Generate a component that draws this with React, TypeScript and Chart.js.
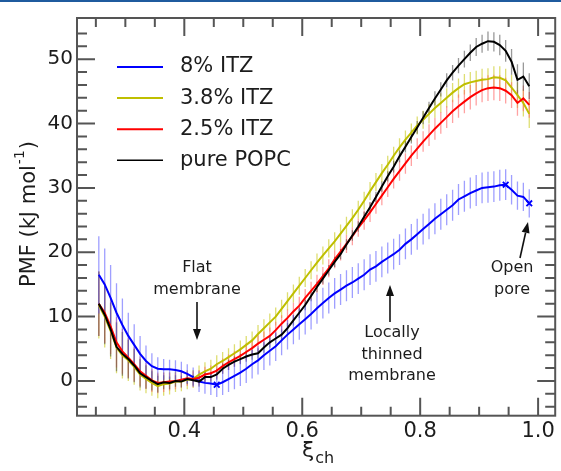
import React, { useEffect, useRef } from 'react';
import { Chart, registerables } from 'chart.js';

Chart.register(...registerables);

const FONT = '"DejaVu Sans", Verdana, sans-serif';

// ---------- data ----------
const xi = [
  0.255, 0.265, 0.275, 0.285, 0.295, 0.305, 0.315, 0.325, 0.335, 0.345,
  0.355, 0.365, 0.375, 0.385, 0.395, 0.405, 0.415, 0.425, 0.435, 0.445,
  0.455, 0.465, 0.475, 0.485, 0.495, 0.505, 0.515, 0.525, 0.535, 0.545,
  0.555, 0.565, 0.575, 0.585, 0.595, 0.605, 0.615, 0.625, 0.635, 0.645,
  0.655, 0.665, 0.675, 0.685, 0.695, 0.705, 0.715, 0.725, 0.735, 0.745,
  0.755, 0.765, 0.775, 0.785, 0.795, 0.805, 0.815, 0.825, 0.835, 0.845,
  0.855, 0.865, 0.875, 0.885, 0.895, 0.905, 0.915, 0.925, 0.935, 0.945,
  0.955, 0.965, 0.975, 0.985,
];

const itz8 = [
  16.5, 15.0, 12.9, 10.6, 8.7, 7.0, 5.6, 4.2, 3.1, 2.3,
  1.9, 1.8, 1.8, 1.7, 1.5, 1.1, 0.6, -0.1, -0.3, -0.4,
  -0.6, -0.2, 0.3, 0.8, 1.3, 1.9, 2.6, 3.2, 4.0, 4.7,
  5.4, 6.3, 7.2, 8.0, 8.8, 9.6, 10.4, 11.3, 12.1, 12.9,
  13.6, 14.2, 14.8, 15.3, 15.9, 16.5, 17.3, 17.8, 18.5, 19.1,
  19.7, 20.4, 21.3, 22.0, 22.8, 23.6, 24.4, 25.2, 25.9, 26.6,
  27.3, 28.2, 28.7, 29.2, 29.6, 30.0, 30.1, 30.2, 30.4, 30.5,
  29.7, 28.8, 28.6, 27.6,
];
const itz8Err = [
  6.0, 5.6, 5.1, 4.6, 4.1, 3.6, 3.2, 2.8, 2.4, 2.0,
  1.8, 1.6, 1.5, 1.5, 1.5, 1.5, 1.5, 1.6, 1.7, 1.8,
  1.9, 2.0, 2.0, 2.1, 2.1, 2.2, 2.2, 2.2, 2.3, 2.3,
  2.3, 2.3, 2.3, 2.3, 2.4, 2.4, 2.4, 2.4, 2.4, 2.4,
  2.4, 2.4, 2.4, 2.4, 2.4, 2.4, 2.4, 2.4, 2.4, 2.4,
  2.4, 2.4, 2.4, 2.4, 2.4, 2.4, 2.4, 2.4, 2.4, 2.4,
  2.4, 2.4, 2.4, 2.4, 2.4, 2.4, 2.4, 2.4, 2.4, 2.4,
  2.3, 2.2, 2.2, 2.2,
];

const itz38 = [
  11.8, 10.0, 7.8, 5.2, 4.0, 3.2, 2.2, 1.0, 0.3, -0.3,
  -0.8, -0.5, -0.4, -0.1, -0.1, 0.2, 0.3, 1.0, 1.5, 1.9,
  2.6, 3.1, 3.7, 4.3, 4.9, 5.6, 6.3, 7.3, 8.2, 9.1,
  10.0, 11.2, 12.4, 13.6, 14.8, 16.0, 17.2, 18.4, 19.5, 20.6,
  21.7, 22.9, 24.1, 25.3, 26.6, 28.0, 29.5, 30.9, 32.3, 33.6,
  35.0, 36.3, 37.5, 38.6, 39.7, 40.6, 41.5, 42.4, 43.2, 44.0,
  44.8, 45.5, 46.1, 46.4, 46.6, 46.8, 46.9, 47.2, 47.1, 46.7,
  45.6, 44.4, 43.2, 41.5,
];
const itz38Err = [
  5.2, 4.8, 4.4, 4.0, 3.6, 3.2, 2.8, 2.5, 2.2, 2.0,
  1.9, 1.8, 1.7, 1.6, 1.5, 1.5, 1.4, 1.4, 1.4, 1.4,
  1.4, 1.4, 1.4, 1.4, 1.4, 1.4, 1.4, 1.4, 1.4, 1.4,
  1.4, 1.4, 1.4, 1.4, 1.4, 1.4, 1.4, 1.4, 1.4, 1.4,
  1.4, 1.4, 1.4, 1.4, 1.4, 1.4, 1.4, 1.4, 1.4, 1.4,
  1.4, 1.4, 1.4, 1.4, 1.4, 1.4, 1.5, 1.5, 1.5, 1.5,
  1.5, 1.5, 1.6, 1.6, 1.6, 1.7, 1.7, 1.7, 1.8, 1.8,
  2.0, 2.0, 2.1, 2.2,
];

const itz25 = [
  12.0, 10.6, 8.5, 6.0, 4.6, 3.6, 2.6, 1.5, 0.8, 0.1,
  -0.3, -0.2, -0.1, 0.0, 0.2, 0.4, 0.3, 0.5, 1.0, 1.2,
  1.6, 2.3, 2.9, 3.4, 3.9, 4.5, 5.1, 5.8, 6.4, 7.0,
  7.9, 8.9, 9.8, 10.8, 11.7, 12.9, 14.0, 15.1, 16.3, 17.5,
  18.9, 20.1, 21.3, 22.5, 23.8, 25.0, 26.2, 27.5, 28.8, 30.1,
  31.4, 32.6, 33.8, 35.0, 36.1, 37.2, 38.2, 39.2, 40.1, 41.0,
  41.9, 42.7, 43.4, 44.1, 44.7, 45.2, 45.5, 45.6, 45.5, 45.1,
  44.4, 43.2, 43.9, 42.9,
];
const itz25Err = [
  5.0, 4.7, 4.3, 3.9, 3.5, 3.1, 2.7, 2.3, 2.0, 1.8,
  1.6, 1.5, 1.4, 1.3, 1.2, 1.2, 1.2, 1.2, 1.2, 1.2,
  1.2, 1.2, 1.2, 1.2, 1.2, 1.3, 1.3, 1.3, 1.3, 1.3,
  1.3, 1.3, 1.3, 1.4, 1.4, 1.4, 1.4, 1.4, 1.4, 1.4,
  1.4, 1.4, 1.4, 1.4, 1.4, 1.5, 1.5, 1.5, 1.5, 1.5,
  1.5, 1.5, 1.6, 1.6, 1.6, 1.6, 1.7, 1.7, 1.7, 1.7,
  1.8, 1.8, 1.8, 1.9, 1.9, 1.9, 2.0, 2.0, 2.0, 2.0,
  2.0, 2.0, 2.0, 2.0,
];

const popc = [
  12.0, 10.3, 8.0, 5.3, 4.2, 3.4, 2.4, 1.2, 0.6, 0.0,
  -0.5, -0.2, -0.3, 0.0, -0.1, 0.3, 0.1, -0.1, 0.6, 0.6,
  1.0, 1.9, 2.5, 3.0, 3.4, 3.8, 4.1, 4.3, 5.2, 6.0,
  6.6, 7.2, 8.2, 9.4, 10.6, 11.8, 13.2, 14.6, 15.9, 17.2,
  18.5, 19.7, 21.2, 22.6, 24.0, 25.5, 27.0, 28.6, 30.2, 31.8,
  33.3, 34.9, 36.4, 37.9, 39.4, 40.9, 42.4, 43.9, 45.3, 46.7,
  47.9, 49.0, 50.0, 51.0, 51.9, 52.4, 52.8, 52.7, 52.2, 51.3,
  49.6, 46.8, 47.3, 45.8,
];
const popcErr = [
  5.0, 4.6, 4.2, 3.8, 3.4, 3.0, 2.6, 2.2, 1.8, 1.5,
  1.3, 1.1, 1.0, 0.9, 0.9, 0.8, 0.8, 0.8, 0.8, 0.8,
  0.8, 0.8, 0.8, 0.8, 0.8, 0.8, 0.8, 0.8, 0.8, 0.8,
  0.8, 0.8, 0.8, 0.8, 0.8, 0.8, 0.8, 0.8, 0.8, 0.8,
  0.8, 0.8, 0.8, 0.8, 0.8, 0.8, 0.8, 0.8, 0.8, 0.8,
  0.9, 0.9, 0.9, 1.0, 1.0, 1.0, 1.0, 1.1, 1.1, 1.1,
  1.2, 1.2, 1.3, 1.3, 1.4, 1.4, 1.5, 1.5, 1.6, 1.7,
  2.0, 2.4, 2.2, 2.0,
];

const seriesLabels = ['8% ITZ', '3.8% ITZ', '2.5% ITZ', 'pure POPC'];
const blueMarkerX = [0.455, 0.945, 0.985];

const xMajorTicks = [0.4, 0.6, 0.8, 1.0];
const xMinorTicks = [0.25, 0.3, 0.35, 0.45, 0.5, 0.55, 0.65, 0.7, 0.75, 0.85, 0.9, 0.95];
const yMajorTicks = [0, 10, 20, 30, 40, 50];
const yMinorTicks = [-4, -2, 2, 4, 6, 8, 12, 14, 16, 18, 22, 24, 26, 28, 32, 34, 36, 38, 42, 44, 46, 48, 52, 54];

// ---------- styles ----------
const TEXT = '#1c1c1c';
const lineColors = ['#0000ff', '#bfbf00', '#ff0000', '#000000'];
const errColors = [
  'rgba(80,80,255,0.55)',
  'rgba(205,205,40,0.65)',
  'rgba(255,100,100,0.6)',
  'rgba(70,70,70,0.55)',
];

const decorPlugin = {
  id: 'decor',
  beforeDatasetsDraw(chart: any) {
    const { ctx, chartArea: a, scales } = chart;
    const xs = scales.x, ys = scales.y;
    const errs = [itz8Err, itz38Err, itz25Err, popcErr];
    const vals = [itz8, itz38, itz25, popc];
    ctx.save();
    ctx.beginPath();
    ctx.rect(a.left, a.top, a.right - a.left, a.bottom - a.top);
    ctx.clip();
    ctx.lineWidth = 1.3;
    const drawOrder = [1, 2, 3, 0];
    for (const d of drawOrder) {
      ctx.strokeStyle = errColors[d];
      ctx.beginPath();
      for (let i = 0; i < xi.length; i++) {
        const px = xs.getPixelForValue(xi[i]);
        ctx.moveTo(px, ys.getPixelForValue(vals[d][i] - errs[d][i]));
        ctx.lineTo(px, ys.getPixelForValue(vals[d][i] + errs[d][i]));
      }
      ctx.stroke();
    }
    ctx.restore();
  },
  afterDatasetsDraw(chart: any) {
    const { ctx, chartArea: a, scales } = chart;
    const xs = scales.x, ys = scales.y;
    ctx.save();
    // ticks on all four sides (inward)
    ctx.strokeStyle = '#555';
    ctx.lineWidth = 2;
    ctx.beginPath();
    const xt = (v: number, len: number) => {
      const p = xs.getPixelForValue(v);
      ctx.moveTo(p, a.bottom); ctx.lineTo(p, a.bottom - len);
      ctx.moveTo(p, a.top); ctx.lineTo(p, a.top + len);
    };
    const yt = (v: number, len: number) => {
      const p = ys.getPixelForValue(v);
      ctx.moveTo(a.left, p); ctx.lineTo(a.left + len, p);
      ctx.moveTo(a.right, p); ctx.lineTo(a.right - len, p);
    };
    xMajorTicks.forEach(v => xt(v, 18));
    xMinorTicks.forEach(v => xt(v, 9));
    yMajorTicks.forEach(v => yt(v, 18));
    yMinorTicks.forEach(v => yt(v, 10));
    ctx.stroke();
    ctx.strokeRect(a.left, a.top, a.right - a.left, a.bottom - a.top);

    // legend
    ctx.font = `21px ${FONT}`;
    ctx.textBaseline = 'middle';
    ctx.textAlign = 'left';
    seriesLabels.forEach((lab, i) => {
      const y = 67 + i * 31.1;
      ctx.strokeStyle = lineColors[i];
      ctx.lineWidth = i === 3 ? 1.6 : 2;
      ctx.beginPath();
      ctx.moveTo(117, y); ctx.lineTo(163, y);
      ctx.stroke();
      ctx.fillStyle = TEXT;
      ctx.fillText(lab, 180, y);
    });

    // annotations
    const arrow = (x1: number, y1: number, x2: number, y2: number) => {
      const ang = Math.atan2(y2 - y1, x2 - x1);
      const hl = 11, hw = 4;
      const bx = x2 - hl * Math.cos(ang), by = y2 - hl * Math.sin(ang);
      ctx.strokeStyle = '#111';
      ctx.fillStyle = '#111';
      ctx.lineWidth = 1.6;
      ctx.beginPath();
      ctx.moveTo(x1, y1); ctx.lineTo(bx, by);
      ctx.stroke();
      ctx.beginPath();
      ctx.moveTo(x2, y2);
      ctx.lineTo(bx + hw * Math.sin(ang), by - hw * Math.cos(ang));
      ctx.lineTo(bx - hw * Math.sin(ang), by + hw * Math.cos(ang));
      ctx.closePath();
      ctx.fill();
    };
    ctx.font = `16px ${FONT}`;
    ctx.textAlign = 'center';
    ctx.fillStyle = TEXT;
    ctx.fillText('Flat', 197, 268);
    ctx.fillText('membrane', 197, 290);
    arrow(197, 302, 197, 340);
    ctx.fillStyle = TEXT;
    ctx.fillText('Locally', 392, 333);
    ctx.fillText('thinned', 392, 355);
    ctx.fillText('membrane', 392, 376);
    arrow(390, 322, 390, 285);
    ctx.fillStyle = TEXT;
    ctx.fillText('Open', 512, 268);
    ctx.fillText('pore', 512, 290);
    arrow(520, 258, 528, 222);

    // y-axis title
    ctx.save();
    ctx.translate(30, 214);
    ctx.rotate(-Math.PI / 2);
    ctx.fillStyle = TEXT;
    ctx.textAlign = 'left';
    ctx.textBaseline = 'middle';
    const main = 'PMF (kJ mol';
    const sup = '-1';
    const close = ')';
    ctx.font = `21px ${FONT}`;
    const w1 = ctx.measureText(main).width;
    const w3 = ctx.measureText(close).width;
    ctx.font = `14px ${FONT}`;
    const w2 = ctx.measureText(sup).width;
    let x0 = -(w1 + w2 + w3 + 2) / 2;
    ctx.font = `21px ${FONT}`;
    ctx.fillText(main, x0, 0);
    x0 += w1 + 1;
    ctx.font = `14px ${FONT}`;
    ctx.fillText(sup, x0, -10);
    x0 += w2 + 1;
    ctx.font = `21px ${FONT}`;
    ctx.fillText(close, x0, 0);
    ctx.restore();

    // x-axis title
    ctx.fillStyle = TEXT;
    ctx.textAlign = 'left';
    ctx.textBaseline = 'alphabetic';
    ctx.font = `22px ${FONT}`;
    ctx.fillText('ξ', 302, 457);
    const wx = ctx.measureText('ξ').width;
    ctx.font = `16px ${FONT}`;
    ctx.fillText('ch', 302 + wx + 1, 463);
    ctx.restore();
  },
};

export default function App() {
  const ref = useRef<HTMLCanvasElement>(null);
  useEffect(() => {
    document.body.style.margin = '0';
    const series = [itz8, itz38, itz25, popc];
    const orders = [4, 3, 2, 1];
    const datasets = series.map((s, d) => ({
      label: seriesLabels[d],
      data: xi.map((x, i) => ({ x, y: s[i] })),
      borderColor: lineColors[d],
      backgroundColor: lineColors[d],
      borderWidth: 2,
      tension: 0,
      order: orders[d],
      pointStyle: 'crossRot' as const,
      pointRadius: d === 0 ? xi.map(x => (blueMarkerX.includes(x) ? 4 : 0)) : 0,
      pointBorderWidth: 1.8,
      pointBorderColor: lineColors[d],
    }));
    const chart = new Chart(ref.current!, {
      type: 'line',
      data: { datasets },
      options: {
        animation: false,
        responsive: false,
        devicePixelRatio: 1,
        layout: { padding: { top: 18, right: 2.5, left: 0, bottom: 0 } },
        plugins: { legend: { display: false }, tooltip: { enabled: false } },
        scales: {
          x: {
            type: 'linear',
            min: 0.218,
            max: 1.029,
            grid: { display: false, drawTicks: false },
            border: { display: false },
            afterBuildTicks: (axis: any) => {
              axis.ticks = xMajorTicks.map(v => ({ value: v }));
            },
            afterFit: (axis: any) => {
              axis.height = 55.3;
            },
            ticks: {
              autoSkip: false,
              maxRotation: 0,
              padding: 3,
              color: TEXT,
              font: { family: FONT, size: 21 },
              callback: (v: any) => Number(v).toFixed(1),
            },
          },
          y: {
            type: 'linear',
            min: -5.4,
            max: 56.4,
            grid: { display: false, drawTicks: false },
            border: { display: false },
            afterBuildTicks: (axis: any) => {
              axis.ticks = yMajorTicks.map(v => ({ value: v }));
            },
            afterFit: (axis: any) => {
              axis.width = 77;
            },
            ticks: {
              autoSkip: false,
              padding: 4,
              color: TEXT,
              font: { family: FONT, size: 20 },
              callback: (v: any) => String(v),
            },
          },
        },
      },
      plugins: [decorPlugin],
    });
    return () => chart.destroy();
  }, []);
  return (
    <div style={{ position: 'relative', width: 561, height: 471, background: '#fff' }}>
      <canvas ref={ref} width={561} height={471} style={{ display: 'block' }} />
      <div style={{ position: 'absolute', left: 0, top: 0, width: 561, height: 2, background: '#1f5b9e' }} />
    </div>
  );
}
